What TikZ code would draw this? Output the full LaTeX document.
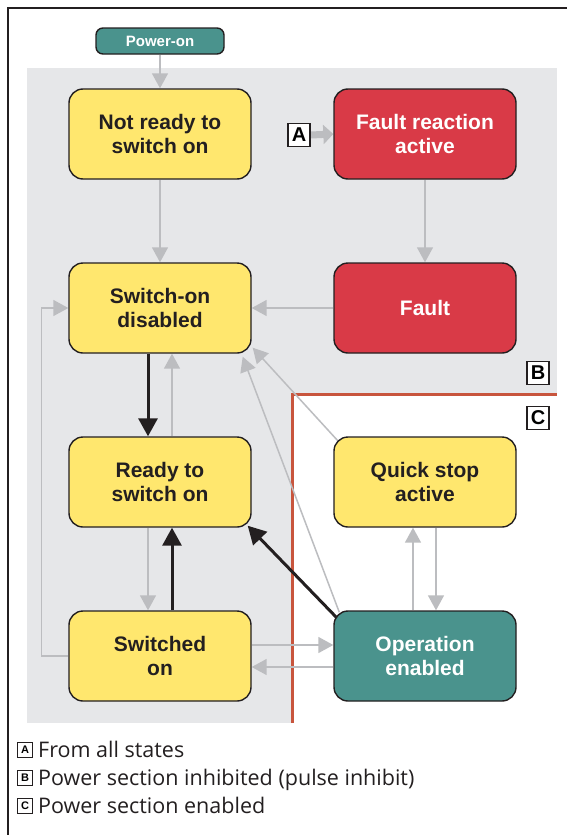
\documentclass[tikz,border=0pt]{standalone}
\usepackage{fontspec}
\setmainfont{Liberation Sans}
\newfontfamily\legendfont{Open Sans}
\usetikzlibrary{arrows.meta}

\definecolor{ink}{HTML}{231F20}
\definecolor{stateyellow}{HTML}{FFE76E}
\definecolor{statered}{HTML}{D93A47}
\definecolor{stateteal}{HTML}{4A938D}
\definecolor{zonegray}{HTML}{E6E7E9}
\definecolor{linegray}{HTML}{BCBDC0}
\definecolor{zonered}{HTML}{C8553D}

\pgfdeclarelayer{zones}
\pgfdeclarelayer{links}
\pgfsetlayers{zones,links,main}

\begin{document}
\begin{tikzpicture}[x=1pt,y=-1pt,
  state/.style={draw=ink, line width=1.4pt, rounded corners=14pt,
    minimum width=182pt, minimum height=90pt, inner sep=0pt, align=center,
    font=\fontsize{21}{24.5}\selectfont\bfseries},
  yellowstate/.style={state, fill=stateyellow, text=ink},
  redstate/.style={state, fill=statered, text=white},
  tealstate/.style={state, fill=stateteal, text=white},
  powerbox/.style={draw=ink, line width=1.4pt, rounded corners=7pt,
    fill=stateteal, text=white, minimum width=128pt, minimum height=26pt,
    inner sep=0pt, font=\fontsize{15}{18}\selectfont\bfseries},
  zonelabel/.style={draw=ink, line width=1.8pt, fill=white, inner sep=0pt,
    minimum width=22pt, minimum height=23pt, font=\fontsize{20}{22}\selectfont\bfseries},
  thin link/.style={draw=linegray, line width=1.5pt,
    -{Triangle[length=15pt,width=16pt]}},
  bold link/.style={draw=ink, line width=3pt,
    -{Triangle[length=18pt,width=19pt]}},
  legendbox/.style={draw=ink, line width=1pt, inner sep=0pt, fill=white,
    minimum width=15pt, minimum height=15pt,
    font=\fontsize{11}{12}\selectfont\bfseries},
  legendtext/.style={anchor=base west, inner sep=0pt,
    font=\legendfont\fontsize{21.5}{24}\selectfont, text=ink}
]
\useasboundingbox (0,0) rectangle (567,835);

% outer frame
\draw[line width=2.5pt, ink] (8,835) -- (8,8) -- (567,8);

% zones B (pulse inhibit) and C (power section enabled)
\begin{pgfonlayer}{zones}
  \fill[zonegray] (27,68) rectangle (557,723);
  \fill[white] (292,394) rectangle (557,723);
  \draw[zonered, line width=3pt] (292,723) -- (292,394) -- (557,394);
\end{pgfonlayer}

% states
\node[powerbox] (pwr) at (160,41) {Power-on};
\node[yellowstate] (nrs) at (160,134) {Not ready to\\switch on};
\node[redstate] (fra) at (425,134) {Fault reaction\\active};
\node[yellowstate] (sod) at (160,308) {Switch-on\\disabled};
\node[redstate] (flt) at (425,308) {Fault};
\node[yellowstate] (rts) at (160,482) {Ready to\\switch on};
\node[yellowstate] (qsa) at (425,482) {Quick stop\\active};
\node[yellowstate] (swo) at (160,656) {Switched\\on};
\node[tealstate] (ope) at (425,656) {Operation\\enabled};

% zone markers
\node[zonelabel] (mA) at (299,135) {A};
\node[zonelabel] (mB) at (538,373) {B};
\node[zonelabel] (mC) at (538,418) {C};

% transitions
\begin{pgfonlayer}{links}
  \draw[thin link] (pwr) -- (nrs);
  \draw[thin link] (nrs) -- (sod);
  \draw[draw=linegray, line width=7pt, -{Triangle[length=10pt,width=19pt]}]
    (mA.east) -- (fra.west);
  \draw[thin link] (fra) -- (flt);
  \draw[thin link] (flt.west) -- (sod.east);
  \draw[bold link] ([xshift=-12pt]sod.south) -- ([xshift=-12pt]rts.north);
  \draw[thin link] ([xshift=12pt]rts.north) -- ([xshift=12pt]sod.south);
  \draw[thin link] ([xshift=-12pt]rts.south) -- ([xshift=-12pt]swo.north);
  \draw[bold link] ([xshift=12pt]swo.north) -- ([xshift=12pt]rts.south);
  \draw[thin link] (swo.west) -- ++(-27,0) |- (sod.west);
  \draw[thin link] ([yshift=11pt]swo.east) -- ([yshift=11pt]ope.west);
  \draw[thin link] ([yshift=-11pt]ope.west) -- ([yshift=-11pt]swo.east);
  \draw[thin link] ([xshift=-12pt]ope.north) -- ([xshift=-12pt]qsa.south);
  \draw[thin link] ([xshift=11pt]qsa.south) -- ([xshift=11pt]ope.north);
  \draw[bold link] ([shift={(4,8)}]ope.north west) -- ([shift={(-4,-2)}]rts.south east);
  \draw[thin link] ([shift={(6,2)}]ope.north west) -- ([shift={(-9,3)}]sod.south east);
  \draw[thin link] ([shift={(5,5)}]qsa.north west) -- ([shift={(1,-6)}]sod.south east);
\end{pgfonlayer}

% legend
\node[legendbox] (lA) at (25,750) {A};
\node[legendtext] (tA) at (38,757) {From all states};
\node[legendbox] (lB) at (25,778) {B};
\node[legendtext] (tB) at (38,785) {Power section inhibited (pulse inhibit)};
\node[legendbox] (lC) at (25,806) {C};
\node[legendtext] (tC) at (38,813) {Power section enabled};
\end{tikzpicture}
\end{document}
